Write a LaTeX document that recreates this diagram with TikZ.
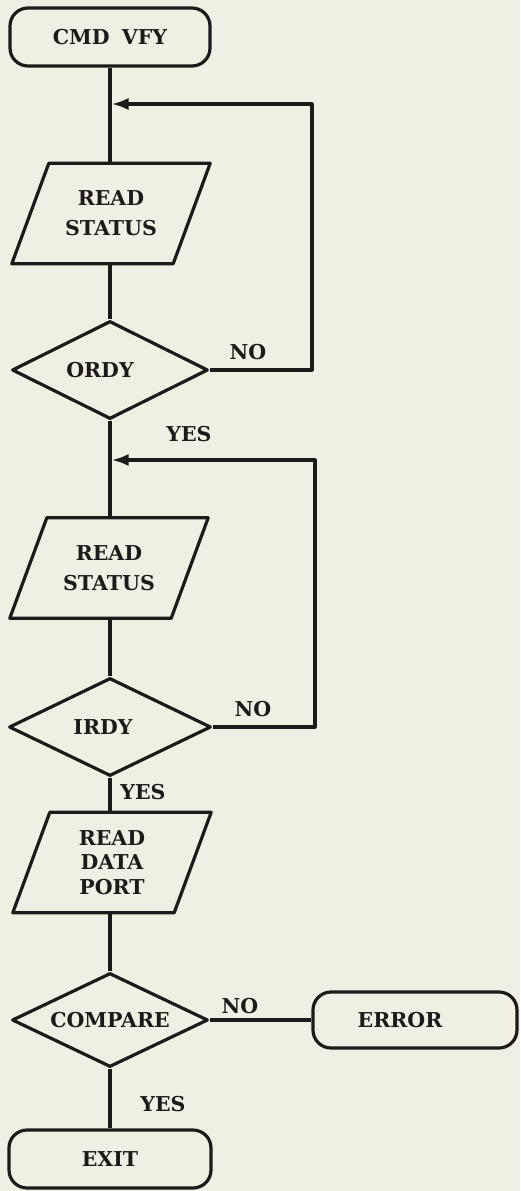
\documentclass[tikz,border=0pt]{standalone}
\usepackage{fontspec}
\newfontfamily\labfam{DejaVu Serif}
\usetikzlibrary{shapes.geometric,arrows.meta,calc}
\definecolor{bg}{HTML}{F0EFE3}
\definecolor{ink}{HTML}{1E1A1A}
\newcommand{\labfont}{\labfam\bfseries\fontsize{20.5}{30}\selectfont}
\begin{document}
\begin{tikzpicture}[x=1pt,y=-1pt,
  ln/.style={draw=ink,line width=3.2pt,line join=round},
  term/.style={ln,rectangle,rounded corners=18pt,minimum width=200pt,minimum height=58pt,inner sep=0pt,font=\labfont,text=ink},
  dec/.style={ln,diamond,aspect=2,minimum width=196pt,minimum height=98pt,inner sep=0pt,font=\labfont,text=ink},
  io/.style={rectangle,minimum width=161pt,minimum height=100pt,inner sep=0pt,align=center,font=\labfont,text=ink},
  lbl/.style={font=\labfont,text=ink,inner sep=0pt},
  arr/.style={ln,-{Latex[length=17pt,width=12pt]}}]
\fill[bg] (0,0) rectangle (520,1191);
\useasboundingbox (0,0) rectangle (520,1191);

\node[term] (start) at (110,37) {CMD\hspace{0.6em}VFY};
\node[io] (rs1) at (111,213.5) {READ\\STATUS};
\node[dec] (ordy) at (110,370) {ORDY\rule{20pt}{0pt}};
\node[io] (rs2) at (109,568) {READ\\STATUS};
\node[dec,minimum width=202pt] (irdy) at (110,727) {IRDY\rule{14pt}{0pt}};
\node[io,font=\labfam\bfseries\fontsize{20.5}{24.5}\selectfont] (rdp) at (112,862.5) {READ\\DATA\\PORT};
\node[dec,minimum height=94pt] (cmp) at (110,1020) {COMPARE};
\node[term,minimum width=204pt,minimum height=56pt] (err) at (415,1020) {ERROR\rule{30pt}{0pt}};
\node[term,minimum width=202pt] (exit) at (110,1159) {EXIT};

\foreach \n in {rs1,rs2,rdp}{
  \draw[ln] ($(\n.north west)+(18.5,0)$) -- ($(\n.north east)+(18.5,0)$) --
    ($(\n.south east)-(18.5,0)$) -- ($(\n.south west)-(18.5,0)$) -- cycle;
}

\coordinate (j1) at (111.5,104);
\coordinate (k1) at (312,104);
\coordinate (j2) at (111.5,460);
\coordinate (k2) at (315,460);

\draw[ln] (start.south) -- (start.south |- rs1.north);
\draw[ln] (start.south |- rs1.south) -- (ordy.north);
\draw[ln] (ordy.south) -- (ordy.south |- rs2.north);
\draw[ln] (ordy.south |- rs2.south) -- (irdy.north);
\draw[ln] (irdy.south) -- (irdy.south |- rdp.north);
\draw[ln] (irdy.south |- rdp.south) -- (cmp.north);
\draw[ln] (cmp.south) -- (exit.north);
\draw[ln] (cmp.east) -- (err.west);

\draw[arr] (ordy.east) -| (k1) -- (j1);
\draw[arr] (irdy.east) -| (k2) -- (j2);

\node[lbl] (no1) at (248,352) {NO};
\node[lbl] (yes1) at (189,434) {YES};
\node[lbl] (no2) at (253,709) {NO};
\node[lbl] (yes2) at (143,792) {YES};
\node[lbl] (no3) at (240,1006) {NO};
\node[lbl] (yes3) at (163,1104) {YES};
\end{tikzpicture}
\end{document}
